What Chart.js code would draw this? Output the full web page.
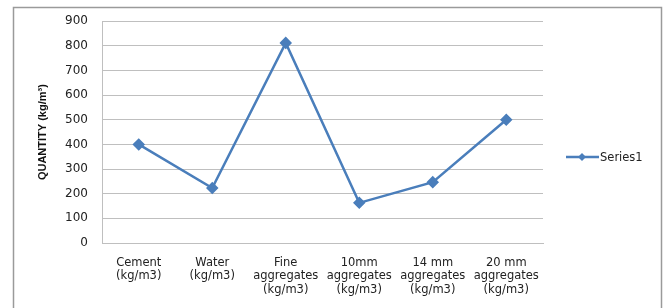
<!DOCTYPE html>
<html lang="en">
<head>
  <meta charset="UTF-8">
  <title>Quantity per material</title>
  <script src="https://cdn.jsdelivr.net/npm/chart.js"></script>
  <style>
    html, body { margin: 0; padding: 0; background: #fff; }
    #wrap { position: relative; width: 663px; height: 308px; }
  </style>
</head>
<body>
  <div id="wrap"><canvas id="chart" width="663" height="308"></canvas></div>

  <script>
    // data
    const categories = [
      ['Cement', '(kg/m3)'],
      ['Water', '(kg/m3)'],
      ['Fine', 'aggregates', '(kg/m3)'],
      ['10mm', 'aggregates', '(kg/m3)'],
      ['14 mm', 'aggregates', '(kg/m3)'],
      ['20 mm', 'aggregates', '(kg/m3)']
    ];
    const series1 = [400, 223, 812, 163, 247, 500];
    const seriesName = 'Series1';
    const yTitle = 'QUANTITY (kg/m\u00B3)';
    const yMax = 900;
    const yStep = 100;

    const blue = '#4a7ebb';
    const gridGray = '#bfbfbf';
    const font = 'DejaVu Sans';

    // outer frame + legend, excel style
    const framePlugin = {
      id: 'frame',
      beforeDraw(chart) {
        const ctx = chart.ctx;
        ctx.save();
        ctx.fillStyle = '#fff';
        ctx.fillRect(0, 0, chart.width, chart.height);
        ctx.strokeStyle = '#9a9a9a';
        ctx.lineWidth = 1.5;
        ctx.strokeRect(13.5, 7.5, 648, 320);
        ctx.restore();
      },
      afterDraw(chart) {
        const ctx = chart.ctx;
        const y = 157;
        ctx.save();
        ctx.strokeStyle = blue;
        ctx.lineWidth = 2.5;
        ctx.beginPath();
        ctx.moveTo(566, y);
        ctx.lineTo(599, y);
        ctx.stroke();
        ctx.fillStyle = blue;
        ctx.beginPath();
        ctx.moveTo(582, y - 4);
        ctx.lineTo(586, y);
        ctx.lineTo(582, y + 4);
        ctx.lineTo(578, y);
        ctx.closePath();
        ctx.fill();
        ctx.fillStyle = '#222';
        ctx.font = '11.5px ' + font;
        ctx.textBaseline = 'middle';
        ctx.fillText(seriesName, 600, y + 1);
        ctx.restore();
      }
    };

    new Chart(document.getElementById('chart').getContext('2d'), {
      type: 'line',
      data: {
        labels: categories,
        datasets: [{
          label: seriesName,
          data: series1,
          borderColor: blue,
          backgroundColor: blue,
          borderWidth: 2.5,
          tension: 0,
          pointStyle: 'rectRot',
          pointRadius: 4.5,
          pointHoverRadius: 4.5,
          pointBackgroundColor: blue,
          pointBorderColor: blue
        }]
      },
      options: {
        responsive: false,
        animation: false,
        layout: { padding: { left: 30, right: 120, top: 20, bottom: 0 } },
        plugins: {
          legend: { display: false },
          tooltip: { enabled: false }
        },
        scales: {
          x: {
            offset: true,
            grid: { display: false, drawTicks: false },
            border: { display: true, color: gridGray, width: 1 },
            ticks: {
              padding: 13,
              maxRotation: 0,
              autoSkip: false,
              color: '#222',
              font: { family: font, size: 11.5, lineHeight: 1.18 }
            },
            afterFit(scale) { scale.height = 65; }
          },
          y: {
            min: 0,
            max: yMax,
            grid: { color: gridGray, drawTicks: false },
            border: { display: true, color: gridGray, width: 1 },
            ticks: {
              stepSize: yStep,
              padding: 14,
              color: '#222',
              font: { family: font, size: 12 }
            },
            title: {
              display: true,
              text: yTitle,
              color: '#111',
              padding: { top: 6, bottom: 0 },
              font: { family: 'Liberation Sans', size: 11, weight: 'bold' }
            },
            afterFit(scale) { scale.width = 72; }
          }
        }
      },
      plugins: [framePlugin]
    });
  </script>
</body>
</html>
